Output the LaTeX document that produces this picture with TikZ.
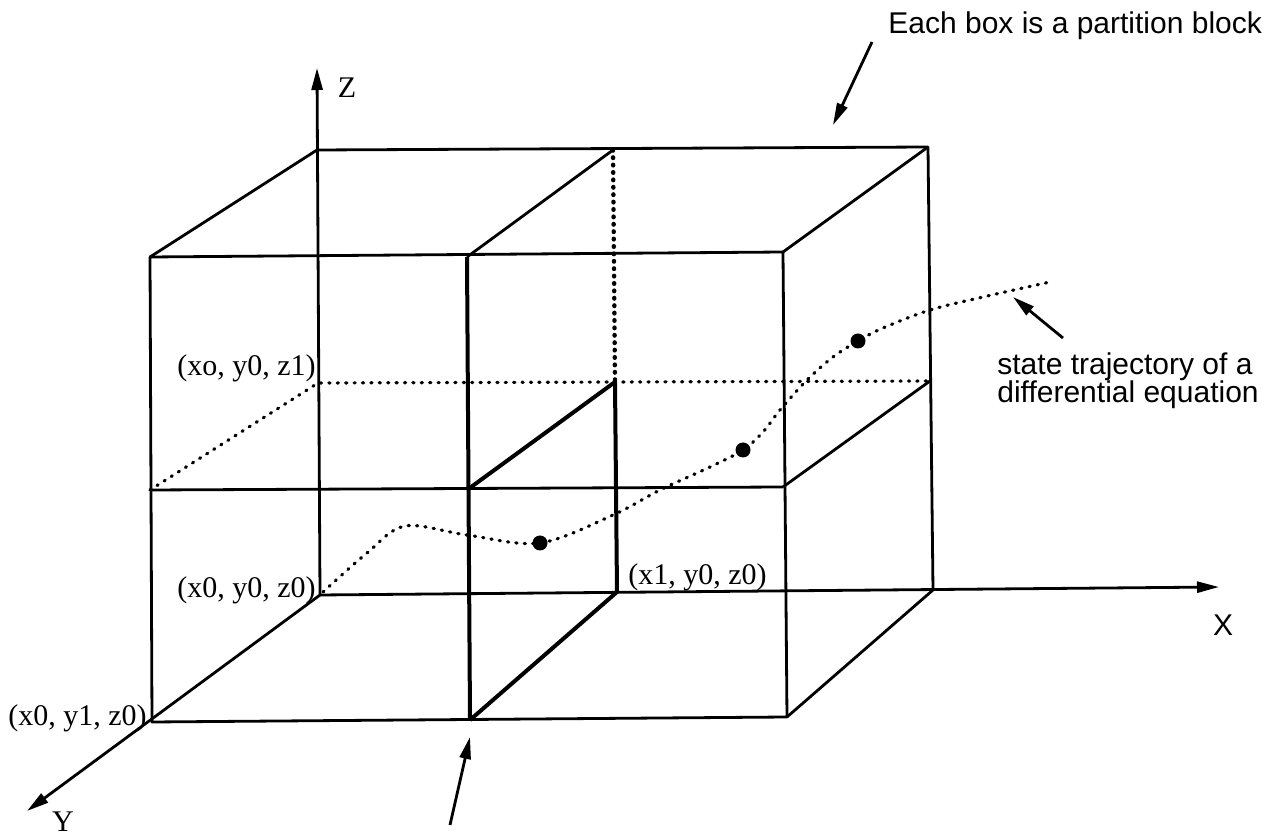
\documentclass[tikz,border=0pt]{standalone}
\usepackage{fontspec}
\setmainfont{Liberation Serif}
\setsansfont{Liberation Sans}
\usetikzlibrary{arrows.meta}
\begin{document}
\begin{tikzpicture}[x=0.5pt,y=-0.5pt,
  edge/.style={line width=1.4pt,line join=round},
  thickedge/.style={line width=2pt,line join=round},
  dotline/.style={line width=1.6pt,line cap=round,dash pattern=on 0.6pt off 3.6pt},
  heavydot/.style={line width=2.2pt,line cap=round,dash pattern=on 0.3pt off 3.4pt},
  axis/.style={line width=1.4pt,-{Triangle[length=11pt,width=5.5pt]}},
  pointer/.style={line width=1.4pt,-{Triangle[length=11pt,width=5.5pt]}},
  serlab/.style={font=\fontsize{15}{15}\selectfont,inner sep=0pt},
  sanslab/.style={font=\sffamily\fontsize{15}{14}\selectfont,inner sep=0pt,align=left},
  blob/.style={circle,fill=black,inner sep=0pt,minimum size=7.5pt}]
\useasboundingbox (0,0) rectangle (1271,839);
% corner points
\coordinate (O) at (320,595);
\coordinate (Ztip) at (317,68);
\coordinate (Xtip) at (1219,587);
\coordinate (Ytip) at (27,811);
\coordinate (BTL) at (317,150);
\coordinate (BTM) at (613,150);
\coordinate (BTR) at (928,147);
\coordinate (BML) at (318,383);
\coordinate (BMM) at (615,382);
\coordinate (BMR) at (930,381);
\coordinate (BBM) at (617,592);
\coordinate (BBR) at (933,590);
\coordinate (FTL) at (150,257);
\coordinate (FTM) at (467,257);
\coordinate (FTR) at (783,252);
\coordinate (FML) at (150,490);
\coordinate (FMM) at (467,490);
\coordinate (FMR) at (783,487);
\coordinate (FBL) at (152,722);
\coordinate (FBM) at (470,720);
\coordinate (FBR) at (787,717);
% axes
\draw[axis] (O) -- (Ztip);
\draw[axis] (O) -- (Xtip);
\draw[axis] (O) -- (Ytip);
% back frame
\draw[edge] (BTL) -- (BTR) -- (BBR);
% front face
\draw[edge] (FTL) -- (FTR) -- (FBR) -- (FBL) -- cycle;
\draw[edge] (FML) -- (FMR);
\draw[thickedge] (FTM) -- (FBM);
% receding edges
\draw[edge] (FTL) -- (BTL);
\draw[edge] (FTM) -- (BTM);
\draw[edge] (FTR) -- (BTR);
\draw[edge] (FMR) -- (BMR);
\draw[edge] (FBR) -- (BBR);
\draw[thickedge] (FMM) -- (BMM) -- (BBM) -- (FBM);
% hidden lines
\draw[heavydot] (BTM) -- (BMM);
\draw[dotline] (FML) -- (BML) -- (BMR);
% trajectory
\draw[dotline] plot[smooth,tension=0.55] coordinates {(323,592) (367,553) (405,526) (467,535) (540,543) (613,515) (660,490) (710,467) (743,450) (763,432) (780,410) (807,380) (833,357) (858,341) (883,328) (930,310) (983,297) (1050,282)};
\node[blob] (p1) at (540,543) {};
\node[blob] (p2) at (743,450) {};
\node[blob] (p3) at (858,341) {};
% axis labels
\node[serlab] (zl) at (347,88) {Z};
\node[serlab] (yl) at (63,822) {Y};
\node[sanslab] (xl) at (1223,625) {X};
% point labels
\node[serlab,anchor=east] (l1) at (316,590) {(x0, y0, z0)};
\node[serlab,anchor=east] (l2) at (147,718) {(x0, y1, z0)};
\node[serlab,anchor=west] (l3) at (628,577) {(x1, y0, z0)};
\node[serlab,anchor=east] (l4) at (316,368) {(xo, y0, z1)};
% annotations
\node[sanslab,anchor=west] (t1) at (888,26) {Each box is a partition block};
\coordinate (a1s) at (872,42);
\coordinate (a1e) at (833,125);
\draw[pointer] (a1s) -- (a1e);
\node[sanslab,anchor=north west] (t2) at (997,352) {state trajectory of a\\differential equation};
\coordinate (a2s) at (1063,338);
\coordinate (a2e) at (1013,297);
\draw[pointer] (a2s) -- (a2e);
\coordinate (a3s) at (450,825);
\coordinate (a3e) at (470,737);
\draw[pointer] (a3s) -- (a3e);
\end{tikzpicture}
\end{document}
